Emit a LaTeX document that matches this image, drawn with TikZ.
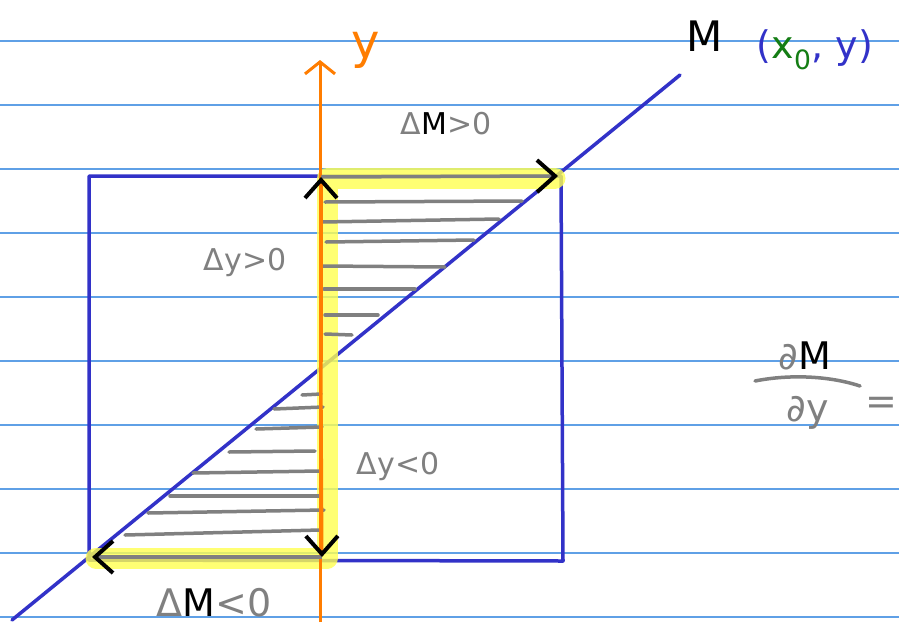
\documentclass[tikz,border=0pt]{standalone}
\usepackage{fontspec}
\setmainfont{DejaVu Sans}
\usetikzlibrary{arrows.meta}
\definecolor{rule}{RGB}{95,160,230}
\definecolor{pen}{RGB}{50,50,200}
\definecolor{axisor}{RGB}{255,125,0}
\definecolor{ink}{RGB}{128,128,128}
\definecolor{hl}{RGB}{255,255,80}
\definecolor{grn}{RGB}{20,125,20}
\begin{document}
\begin{tikzpicture}[x=1pt,y=-1pt,
  ruleline/.style={rule,line width=1.5},
  penline/.style={pen,line width=3.5,line join=round,line cap=round},
  hatch/.style={ink,line width=3.5,line cap=round},
  hilite/.style={hl,line width=21,opacity=0.8,line cap=round,line join=round},
  barbtip/.style={-{Straight Barb[color=black,length=18pt,width=32pt,line width=4pt]}},
  lbl/.style={font=\fontsize{30}{34}\selectfont,inner sep=0pt},
  biglbl/.style={font=\fontsize{38}{42}\selectfont,inner sep=0pt}]
\clip (0,0) rectangle (899,627);
\fill[white] (0,0) rectangle (899,627);
% ruled paper
\foreach \yy in {41,105,...,617} \draw[ruleline] (0,\yy) -- (899,\yy);
% rectangle
\coordinate (TL) at (89,176);
\coordinate (TR) at (561,176);
\coordinate (BR) at (563,561);
\coordinate (BL) at (89,560);
\draw[penline] (TL) -- (TR) -- (BR) -- (BL) -- cycle;
% diagonal
\coordinate (D1) at (12,620);
\coordinate (D2) at (680,75);
\draw[penline] (D1) -- (D2);
% highlight
\coordinate (hLB) at (96,558);
\coordinate (hB) at (327,558);
\coordinate (hT) at (327,178);
\coordinate (hR) at (555,178);
\draw[hilite] (hLB) -- (hB) -- (hT) -- (hR);
% hatch lines upper
\draw[hatch] (325,202) -- (522,201);
\draw[hatch] (322,222) -- (499,219);
\draw[hatch] (326,242) -- (474,240);
\draw[hatch] (323,266) -- (445,267);
\draw[hatch] (324,289) -- (415,289);
\draw[hatch] (325,315) -- (378,315);
\draw[hatch] (325,334) -- (352,335);
% hatch lines lower
\draw[hatch] (302,395) -- (321,394);
\draw[hatch] (274,409) -- (323,407);
\draw[hatch] (256,429) -- (322,427);
\draw[hatch] (229,452) -- (315,451);
\draw[hatch] (193,473) -- (320,471);
\draw[hatch] (170,496) -- (320,496);
\draw[hatch] (148,513) -- (324,510);
\draw[hatch] (125,535) -- (320,530);
% y axis
\coordinate (A0) at (320,622);
\coordinate (A1) at (320,60);
\draw[axisor,line width=3,-{Straight Barb[length=12pt,width=30pt]}] (A0) -- (A1);
\node[font=\fontsize{48}{52}\selectfont,inner sep=0pt,text=axisor] (ylab) at (366,50) {y};
% arrows along the highlight
\coordinate (O) at (321,362);
\coordinate (UT) at (321,177);
\coordinate (DB) at (322,557);
\coordinate (RT) at (558,176);
\coordinate (LB) at (92,557);
\draw[ink,line width=3.5,barbtip] (UT) -- (RT);
\draw[ink,line width=3.5,barbtip] (DB) -- (LB);
\draw[axisor,line width=3,barbtip] (O) -- (UT);
\draw[axisor,line width=3,barbtip] (O) -- (DB);
% labels
\node[lbl,text=ink] (dMpos) at (446,124) {Δ\textcolor{black}{M}>0};
\node[lbl,text=ink] (dypos) at (245,262) {Δy>0};
\node[lbl,text=ink] (dyneg) at (398,466) {Δy<0};
\node[biglbl,text=ink] (dMneg) at (214,603) {Δ\textcolor{black}{M}<0};
\node[font=\fontsize{42}{46}\selectfont,inner sep=0pt,text=black] (Mlab) at (705,36) {M};
\node[biglbl,text=pen] (pt) at (815,50) {(\textcolor{grn}{x\textsubscript{0}}, y)};
% partial derivative
\node[biglbl,text=ink] (num) at (805,356) {∂\textcolor{black}{M}};
\coordinate (barL) at (755,381);
\coordinate (barR) at (860,386);
\draw[ink,line width=3.5,line cap=round] (barL) .. controls (790,374) and (830,376) .. (barR);
\node[biglbl,text=ink] (den) at (808,413) {∂y};
\node[biglbl,text=ink] (eq) at (881,406) {=};
\end{tikzpicture}
\end{document}
